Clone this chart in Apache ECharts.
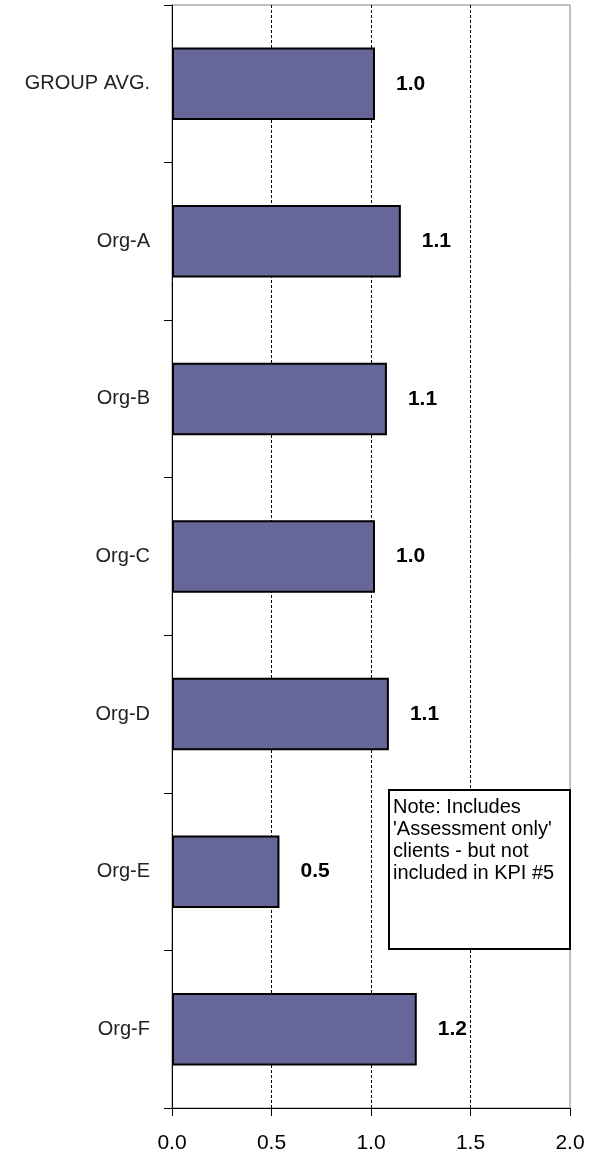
<!DOCTYPE html>
<html>
<head>
<meta charset="utf-8">
<script src="https://cdn.jsdelivr.net/npm/echarts@6/dist/echarts.min.js"></script>
<style>
  html, body { margin: 0; padding: 0; background: #fff; }
  #main { width: 590px; height: 1160px; }
</style>
</head>
<body>
<div id="main"></div>
<script>
// categories top to bottom
const orgs = ['GROUP AVG.', 'Org-A', 'Org-B', 'Org-C', 'Org-D', 'Org-E', 'Org-F']
const ratio = [1.02, 1.15, 1.08, 1.02, 1.09, 0.54, 1.23]
const xTicks = [0, 0.5, 1.0, 1.5, 2.0]
const noteLines = ['Note: Includes', "'Assessment only'", 'clients - but not', 'included in KPI #5']

const myChart = echarts.init(document.getElementById('main'))

const option = {
  backgroundColor: '#fff',
  animation: false,
  textStyle: { fontFamily: 'Liberation Sans, Arial, sans-serif', color: '#000' },
  grid: {
    left: 172, right: 20, top: 5, bottom: 52,
    show: true, borderColor: '#808080', borderWidth: 1
  },
  xAxis: {
    type: 'value',
    min: xTicks[0],
    max: xTicks[xTicks.length - 1],
    interval: 0.5,
    axisLine: { show: true, onZero: false, lineStyle: { color: '#000', width: 1 } },
    axisTick: { show: true, length: 8, lineStyle: { color: '#000' } },
    axisLabel: {
      fontSize: 21, color: '#000', margin: 25,
      formatter: v => v.toFixed(1)
    },
    splitLine: {
      show: true,
      lineStyle: { color: ['transparent', '#000', '#000', '#000', 'transparent'], type: [3, 2], width: 1 }
    }
  },
  yAxis: {
    type: 'category',
    data: orgs,
    inverse: true,
    axisLine: { show: true, lineStyle: { color: '#000', width: 1 } },
    axisTick: { show: true, length: 8, alignWithLabel: false, lineStyle: { color: '#000' } },
    axisLabel: { fontSize: 20, color: '#222', margin: 22 },
    splitLine: { show: false }
  },
  series: [
    {
      type: 'bar',
      data: ratio,
      barCategoryGap: '54%',
      itemStyle: { color: '#666699', borderColor: '#000', borderWidth: 2 },
      label: {
        show: true,
        position: 'right',
        distance: 21,
        fontSize: 21,
        fontWeight: 'bold',
        color: '#000',
        formatter: p => p.value.toFixed(1)
      }
    }
  ],
  graphic: [
    {
      type: 'rect',
      left: 388, top: 789,
      shape: { width: 181, height: 159 },
      style: { fill: '#fff', stroke: '#000', lineWidth: 2 },
      z: 100
    },
    {
      type: 'text',
      left: 393, top: 796,
      style: {
        text: noteLines.join('\n'),
        font: '20px "Liberation Sans", Arial, sans-serif',
        fill: '#000',
        lineHeight: 22
      },
      z: 101
    }
  ]
}

myChart.setOption(option)
</script>
</body>
</html>
